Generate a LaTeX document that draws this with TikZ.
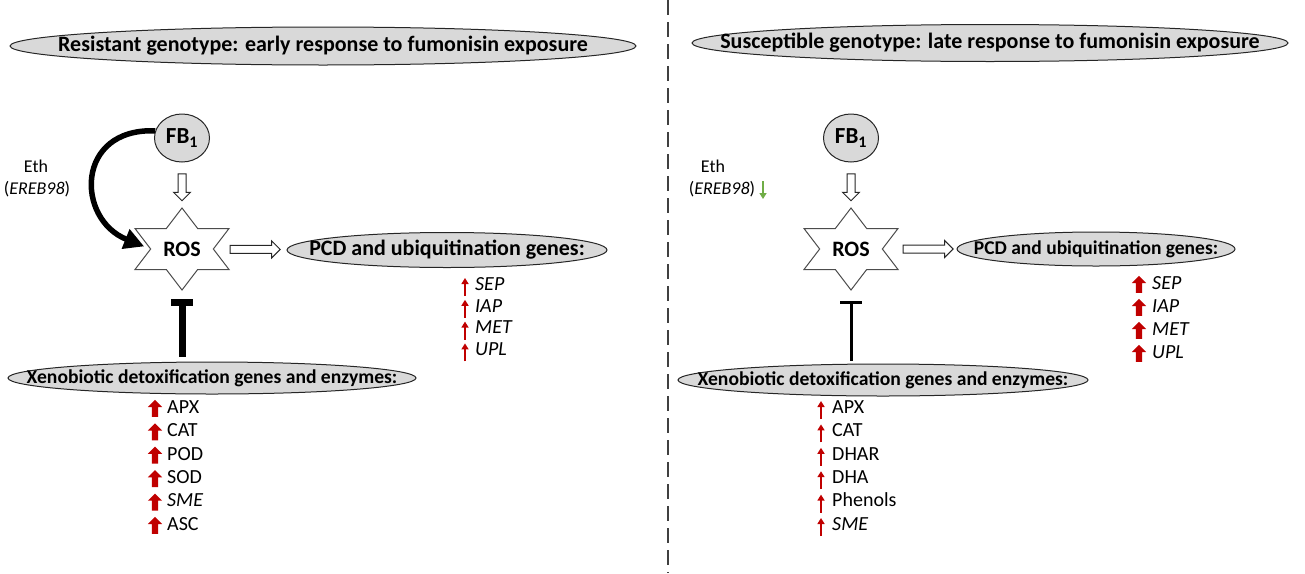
\documentclass[tikz,border=0pt]{standalone}
\usepackage{fontspec}
\setmainfont{Carlito}
\usetikzlibrary{arrows.meta,shapes.geometric,shapes.arrows,calc}
\definecolor{ovalgray}{HTML}{D9D9D9}
\definecolor{upred}{HTML}{C00000}
\definecolor{downgreen}{HTML}{70AD47}
\newcommand{\fsz}[1]{\fontsize{#1}{#1}\selectfont}
\begin{document}
\begin{tikzpicture}[x=1pt,y=-1pt,
  oval/.style 2 args={ellipse, draw=black!85, line width=1pt, fill=ovalgray, inner sep=0pt, minimum width=#1, minimum height=#2},
  ovaltext/.style={font=\bfseries\fsz{#1}, inner sep=0pt},
  fbnode/.style={ellipse, draw=black!85, line width=1pt, fill=ovalgray, inner sep=0pt, minimum width=55pt, minimum height=48pt, font=\bfseries\fsz{23}},
  rostext/.style={font=\bfseries\fsz{22}, inner sep=0pt},
  starline/.style={draw=black!70, line width=1pt, fill=white},
  openarrow/.style={single arrow, draw=black!85, line width=1pt, fill=white, inner sep=3.5pt, single arrow head extend=4.5pt, minimum height=#1},
  thickup/.style={single arrow, fill=upred, draw=none, inner sep=3pt, single arrow head extend=4pt, minimum height=17pt, rotate=90},
  thinup/.style={draw=upred, line width=2.2pt, -{Triangle[length=6pt,width=7pt]}},
  thindown/.style={draw=downgreen, line width=2.2pt, -{Triangle[length=6pt,width=7pt]}},
  item/.style={font=\fsz{20}, inner sep=0pt, anchor=west, text height=0.66em, text depth=0.02em},
  ethtext/.style={font=\fsz{18}, inner sep=0pt},
  curvearrow/.style={line width=5.5pt, -{Triangle[length=20pt,width=20pt]}, shorten >=7pt},
  divider/.style={draw=black!75, line width=2pt, dash pattern=on 15pt off 7pt}
]
\useasboundingbox (0,0) rectangle (1305,573);

% divider
\coordinate (dtop) at (668,0);
\coordinate (dbot) at (668,573);
\draw[divider] (dtop) -- (dbot);

%================ LEFT PANEL =================
\node[oval={626pt}{38pt}] (titleL) at (323,46) {};
\node[ovaltext=22] at (titleL.center) {Resistant genotype: early response to fumonisin exposure};

\node[fbnode] (fbL) at (182,138) {FB\textsubscript{1}};

\node[ethtext] (ethL) at (36,166) {Eth};
\node[ethtext] (erebL) at (37,189) {(\textit{EREB98})};

\node[rostext] (rosL) at (182,249) {ROS};
\draw[starline, shift={(rosL.center)}]
  (0,-41) coordinate (sLt) -- (15.68,-20.5) -- (47,-20.5) -- (31.35,0) -- (47,20.5) -- (15.68,20.5)
  -- (0,41) coordinate (sLb) -- (-15.68,20.5) -- (-47,20.5) -- (-31.35,0) coordinate (sLw) -- (-47,-20.5) -- (-15.68,-20.5) -- cycle;
\coordinate (sLe) at ($(rosL.center)+(47,0)$);
\node[rostext] at (rosL.center) {ROS};

\node[oval={320pt}{35pt}] (pcdL) at (447,250) {};
\node[ovaltext=22] at (pcdL.center) {PCD and ubiquitination genes:};

\node[oval={408pt}{32pt}] (xenoL) at (212,378) {};
\node[ovaltext=19.6] at (xenoL.center) {Xenobiotic detoxification genes and enzymes:};

% connectors left
\path (fbL.south) -- (sLt) node[midway, openarrow=27pt, rotate=-90] (aFbL) {};
\path (sLe) -- (pcdL.west) node[pos=0.42, openarrow=50pt] (aRosL) {};
\draw[curvearrow] (fbL.165) .. controls +(-80,-3) and +(-75,-30) .. (sLw);
\draw[line width=7pt, -{Bar[width=22pt]}, shorten <=5pt, shorten >=9pt] (xenoL.north -| sLb) -- (sLb);

% PCD list left (thin arrows)
\foreach \t [count=\i from 0] in {SEP,IAP,MET,UPL} {
  \node[item] (pl\i) at (475,{287+21.8*\i}) {\textit{\t}};
  \draw[thinup] (465,{287+21.8*\i+9}) -- (465,{287+21.8*\i-9});
}
% Xeno list left (thick arrows)
\foreach \t [count=\i from 0] in {APX,CAT,POD,SOD,\textit{SME},ASC} {
  \node[item] (xl\i) at (167,{410+23.4*\i}) {\t};
  \node[thickup] (xla\i) at (155,{410+23.4*\i}) {};
}

%================ RIGHT PANEL =================
\node[oval={596pt}{37pt}] (titleR) at (990,43) {};
\node[ovaltext=22] at (titleR.center) {Susceptible genotype: late response to fumonisin exposure};

\node[fbnode] (fbR) at (851,138) {FB\textsubscript{1}};

\node[ethtext] (ethR) at (713,166) {Eth};
\node[ethtext] (erebR) at (722,189) {(\textit{EREB98})};
\draw[thindown] (763,181) -- (763,199);

\node[rostext] (rosR) at (851,249) {ROS};
\draw[starline, shift={(rosR.center)}]
  (0,-41) coordinate (sRt) -- (15.68,-20.5) -- (47,-20.5) -- (31.35,0) -- (47,20.5) -- (15.68,20.5)
  -- (0,41) coordinate (sRb) -- (-15.68,20.5) -- (-47,20.5) -- (-31.35,0) coordinate (sRw) -- (-47,-20.5) -- (-15.68,-20.5) -- cycle;
\coordinate (sRe) at ($(rosR.center)+(47,0)$);
\node[rostext] at (rosR.center) {ROS};

\node[oval={278pt}{34pt}] (pcdR) at (1096,249) {};
\node[ovaltext=19.5] at (pcdR.center) {PCD and ubiquitination genes:};

\node[oval={410pt}{32pt}] (xenoR) at (883,380) {};
\node[ovaltext=19.6] at (xenoR.center) {Xenobiotic detoxification genes and enzymes:};

% connectors right
\path (fbR.south) -- (sRt) node[midway, openarrow=27pt, rotate=-90] (aFbR) {};
\path (sRe) -- (pcdR.west) node[pos=0.48, openarrow=50pt] (aRosR) {};
\draw[line width=3pt, -{Bar[width=22pt]}, shorten <=3pt, shorten >=11pt] (xenoR.north -| sRb) -- (sRb);

% PCD list right (thick arrows)
\foreach \t [count=\i from 0] in {SEP,IAP,MET,UPL} {
  \node[item] (pr\i) at (1152,{286+23*\i}) {\textit{\t}};
  \node[thickup] (pra\i) at (1139,{286+23*\i}) {};
}
% Xeno list right (thin arrows)
\foreach \t [count=\i from 0] in {APX,CAT,DHAR,DHA,Phenols,\textit{SME}} {
  \node[item] (xr\i) at (832,{410+23.4*\i}) {\t};
  \draw[thinup] (821,{410+23.4*\i+9}) -- (821,{410+23.4*\i-9});
}
\end{tikzpicture}
\end{document}
